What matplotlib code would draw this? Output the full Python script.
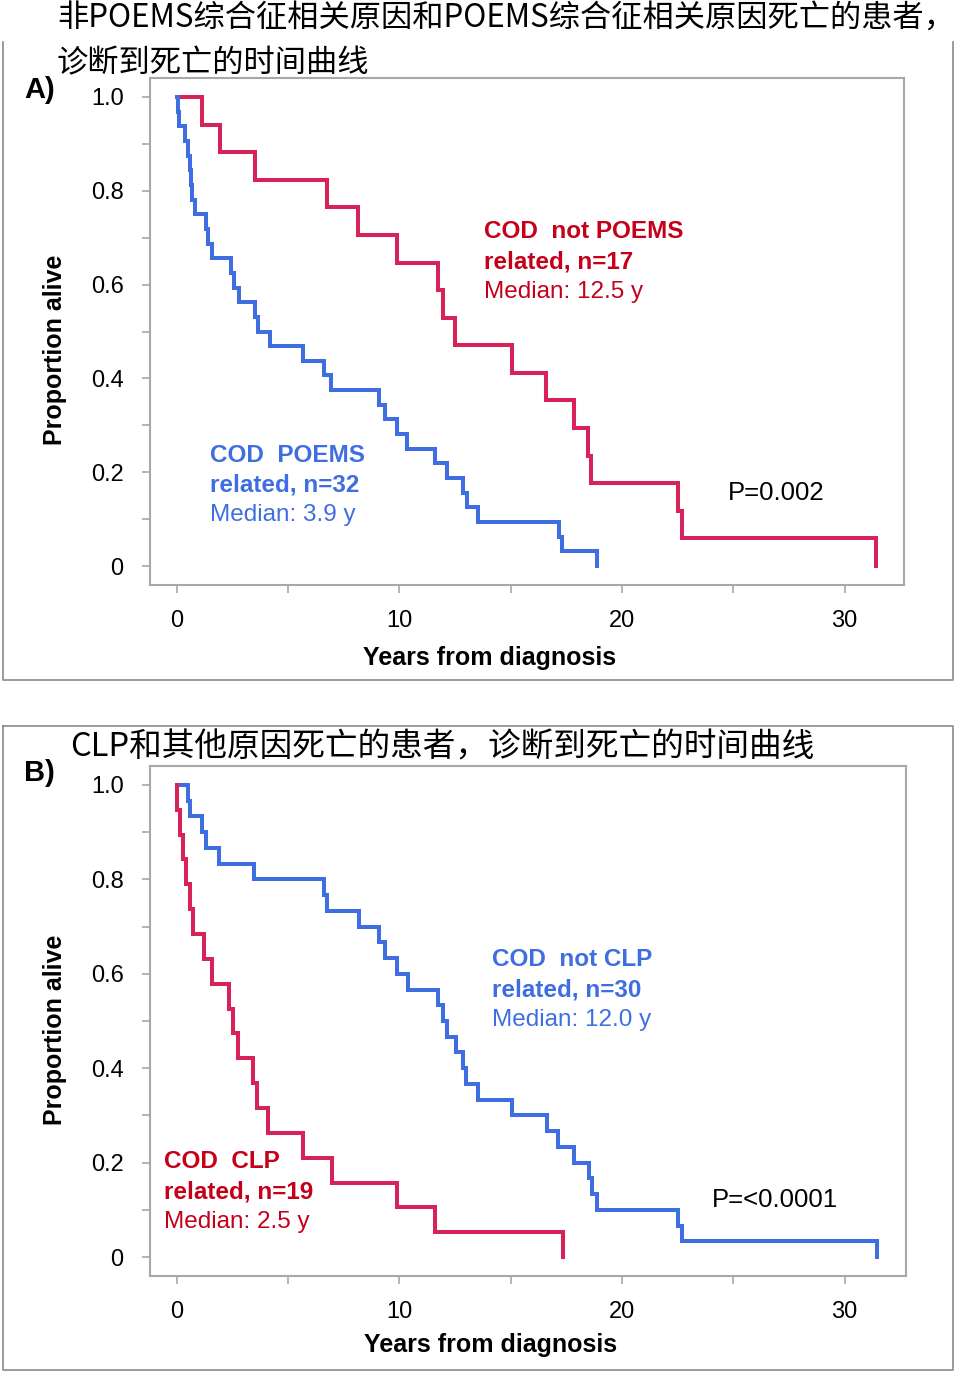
import numpy as np
import matplotlib
matplotlib.use('Agg')
import matplotlib.pyplot as plt
from matplotlib.lines import Line2D

plt.rcParams['font.family'] = ['Liberation Sans', 'DejaVu Sans']

# event (death) times in years
a_red_times = [1.11, 1.93, 3.5, 6.73, 8.15, 9.87, 11.75, 11.94, 12.49, 15.04,
               16.57, 17.84, 18.49, 18.59, 22.5, 22.68, 31.4]
a_blue_times = [0.05, 0.1, 0.36, 0.48, 0.58, 0.62, 0.66, 0.81, 1.30, 1.41,
                1.56, 2.41, 2.56, 2.79, 3.51, 3.66, 4.18, 5.68, 6.61, 6.91,
                9.09, 9.35, 9.90, 10.33, 11.6, 12.12, 12.87, 13.02, 13.54,
                17.18, 17.32, 18.86]
b_red_times = [0.0, 0.15, 0.28, 0.39, 0.58, 0.73, 1.21, 1.56, 2.35, 2.53,
               2.76, 3.43, 3.61, 4.10, 5.68, 6.95, 9.87, 11.6, 17.36]
b_blue_times = [0.51, 0.58, 1.11, 1.30, 1.90, 3.46, 6.61, 6.73, 8.18, 9.09,
                9.35, 9.87, 10.37, 11.75, 11.97, 12.12, 12.54, 12.87, 12.99,
                13.54, 15.04, 16.61, 17.14, 17.84, 18.53, 18.64, 18.86, 22.53,
                22.68, 31.47]

x_ticks = [0, 10, 20, 30]
y_ticks = [0, 0.2, 0.4, 0.6, 0.8, 1.0]
y_tick_labels = ['0', '0.2', '0.4', '0.6', '0.8', '1.0']

title_a = ['非POEMS综合征相关原因和POEMS综合征相关原因死亡的患者，', '诊断到死亡的时间曲线']
title_b = 'CLP和其他原因死亡的患者，诊断到死亡的时间曲线'

RED = '#d6245a'
RED_TXT = '#c4001a'
BLUE = '#3e6ee0'
GREY = '#a8a8a8'

W, H = 956, 1375
fig = plt.figure(figsize=(W / 100, H / 100), dpi=100)


def fx(px):
    return px / W


def fy(py):
    return 1 - py / H


def km(times):
    # Kaplan-Meier without censoring
    t = np.sort(np.array(times))
    n = len(t)
    xs = np.concatenate([[0], t])
    ys = np.concatenate([[1.0], 1 - np.arange(1, n + 1) / n])
    return xs, ys


def setup(ax, top, bottom, xlab_y, ylab_y):
    for s in ax.spines.values():
        s.set_color(GREY)
        s.set_linewidth(1.5)
    ax.set_xticks(x_ticks)
    ax.set_xticks([5, 15, 25], minor=True)
    ax.set_yticks(y_ticks)
    ax.set_yticklabels(y_tick_labels)
    ax.set_yticks([0.1, 0.3, 0.5, 0.7, 0.9], minor=True)
    ax.tick_params(which='both', direction='out', length=6, width=1.2,
                   color=GREY, labelsize=17)
    ax.tick_params(axis='y', pad=13)
    ax.tick_params(axis='x', pad=12)
    ax.set_xlabel('Years from diagnosis', fontsize=18, fontweight='bold', va='center')
    ax.set_ylabel('Proportion alive', fontsize=18, fontweight='bold', va='center')
    hpx = bottom - top
    ax.xaxis.set_label_coords((490 - 150) / 754, (bottom - xlab_y) / hpx)
    ax.yaxis.set_label_coords((55 - 150) / 754, (bottom - ylab_y) / hpx)


def curve(ax, times, color):
    xs, ys = km(times)
    xs = np.append(xs, xs[-1])
    ys = np.append(ys, ys[-1])
    ax.step(xs, ys, where='post', color=color, lw=2.9, solid_joinstyle='miter')


def label3(px, py, lines, color):
    weights = ['bold', 'bold', 'normal']
    for i, (t, w) in enumerate(zip(lines, weights)):
        fig.text(fx(px), fy(py + 30 * i), t, color=color, fontsize=17.5,
                 fontweight=w, va='center', ha='left')


# ---- panel A ----
axA = fig.add_axes([fx(150), fy(585), fx(904) - fx(150), fy(78) - fy(585)])
curve(axA, a_red_times, RED)
curve(axA, a_blue_times, BLUE)
axA.set_xlim(-1.21, 32.67)
axA.set_ylim(-0.0405, 1.0405)
setup(axA, 78, 585, 658, 350)

# ---- panel B ----
axB = fig.add_axes([fx(150), fy(1276), fx(906) - fx(150), fy(766) - fy(1276)])
curve(axB, b_blue_times, BLUE)
curve(axB, b_red_times, RED)
axB.set_xlim(-1.21, 32.76)
axB.set_ylim(-0.040, 1.040)
setup(axB, 766, 1276, 1345, 1030)

# outer panel frames
for xs_, ys_ in [([3, 3, 953, 953], [42, 680, 680, 42]),
                 ([3, 3, 953, 953, 3], [726, 1370, 1370, 726, 726])]:
    fig.add_artist(Line2D([fx(v) for v in xs_], [fy(v) for v in ys_],
                          color='#8a8a8a', lw=1.2))

# titles
cjk = ['Noto Sans CJK SC', 'DejaVu Sans']
fig.text(fx(57), fy(18), title_a[0], family=cjk, fontsize=22.5, va='center', ha='left')
fig.text(fx(57), fy(63), title_a[1], family=cjk, fontsize=22.5, va='center', ha='left')
fig.text(fx(70), fy(748), title_b, family=cjk, fontsize=23.5, va='center', ha='left')

fig.text(fx(24), fy(90), 'A)', fontsize=21, fontweight='bold', va='center')
fig.text(fx(24), fy(773), 'B)', fontsize=21, fontweight='bold', va='center')

# annotations
label3(484, 232, ['COD  not POEMS', 'related, n=17', 'Median: 12.5 y'], RED_TXT)
label3(210, 455, ['COD  POEMS', 'related, n=32', 'Median: 3.9 y'], BLUE)
label3(164, 1162, ['COD  CLP', 'related, n=19', 'Median: 2.5 y'], RED_TXT)
label3(492, 960, ['COD  not CLP', 'related, n=30', 'Median: 12.0 y'], BLUE)
fig.text(fx(728), fy(493), 'P=0.002', fontsize=18.5, va='center', ha='left')
fig.text(fx(712), fy(1200), 'P=<0.0001', fontsize=18.5, va='center', ha='left')

fig.savefig('out.png', dpi=100)
